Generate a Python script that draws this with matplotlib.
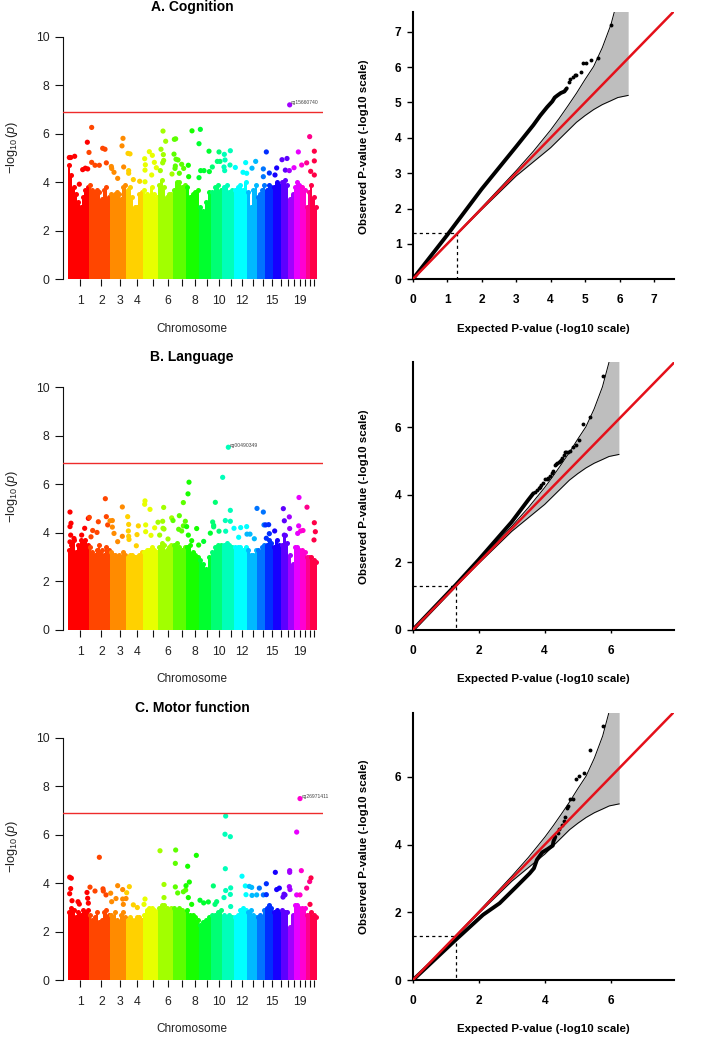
import numpy as np
import matplotlib
matplotlib.use('Agg')
import matplotlib.pyplot as plt
from matplotlib.colors import hsv_to_rgb

plt.rcParams['font.family'] = ['Liberation Sans', 'DejaVu Sans']
plt.rcParams['mathtext.fontset'] = 'custom'
plt.rcParams['mathtext.rm'] = 'Liberation Sans'
plt.rcParams['mathtext.it'] = 'Liberation Sans:italic'

# chromosome widths along the genome axis
chr_width = [64, 62, 50, 49, 46, 44, 40, 39, 35, 35, 34, 40, 30, 25, 22, 24, 23, 17, 18, 18, 12, 22]
chr_ticks = [38, 101, 157, 207, 255, 300, 342, 381, 418, 454, 489, 523, 556, 586, 614, 640, 662, 679, 696, 711, 727, 740]
chr_labels = ['1', '2', '3', '4', '', '6', '', '8', '', '10', '', '12', '', '', '15', '', '', '', '19', '', '', '']

threshold = 6.9

# skyline of the dense points, one list per chromosome
sky_A = [
    [4.7, 4.3, 3.8, 3.5, 3.2, 3.0, 3.4, 3.7, 3.8], [3.9, 3.7, 3.6, 3.7, 3.6, 3.3, 3.7, 3.8, 3.4],
    [3.5, 3.4, 3.5, 3.6, 3.5, 3.3, 3.8, 3.9], [3.7, 3.8, 3.4, 3.0, 3.0, 3.5, 3.6], [3.7, 3.5, 3.4, 3.8, 3.5, 3.4],
    [3.9, 4.1, 3.8, 3.4, 3.5, 3.5], [3.7, 4.0, 4.0, 3.8, 3.9], [3.8, 3.4, 3.5, 3.6, 3.7], [3.0, 2.8, 3.2, 3.6],
    [3.6, 3.8, 3.9, 3.7], [3.8, 3.9, 3.6, 3.7], [3.7, 3.8, 3.9, 3.7, 4.0], [3.6, 3.0, 3.7, 3.9],
    [3.4, 3.5, 3.7, 3.9], [3.7, 3.9, 3.8], [3.8, 4.0, 3.9], [4.0, 4.1, 3.9], [3.3, 3.5],
    [3.8, 4.0, 3.9], [3.8, 3.7], [3.0, 3.6], [3.9, 3.4, 3.0],
]
sky_B = [
    [3.3, 3.5, 3.7, 3.2, 3.5, 3.7, 3.6, 3.7, 3.5], [3.4, 3.2, 3.1, 3.3, 3.5, 3.3, 3.1, 3.4, 3.3],
    [3.2, 3.1, 3.1, 3.0, 3.1, 3.0, 3.2, 3.1], [3.0, 3.1, 3.1, 3.0, 3.0, 3.1, 3.2], [3.2, 3.3, 3.3, 3.4, 3.3, 3.2],
    [3.4, 3.6, 3.5, 3.3, 3.4, 3.5], [3.5, 3.6, 3.4, 3.3, 3.4], [3.4, 3.5, 3.2, 3.1, 3.0], [2.9, 2.7, 2.5, 3.0],
    [3.2, 3.4, 3.5, 3.5], [3.5, 3.6, 3.5, 3.4], [3.4, 3.4, 3.4, 3.3, 3.4], [3.3, 3.1, 3.1, 3.3],
    [3.3, 3.2, 3.4, 3.5], [3.5, 3.7, 3.6], [3.4, 3.7, 3.5], [3.5, 3.9, 3.6], [3.1, 2.7],
    [3.4, 3.4, 3.3], [3.3, 3.2], [3.0, 3.0], [3.0, 2.9, 2.8],
]
sky_C = [
    [2.8, 3.0, 2.9, 2.6, 2.8, 2.7, 2.9, 2.8, 2.9], [2.7, 2.5, 2.6, 2.8, 2.4, 2.5, 2.8, 2.9, 2.7],
    [2.7, 2.6, 2.8, 2.5, 2.4, 2.7, 2.8, 2.6], [2.5, 2.6, 2.5, 2.5, 2.6, 2.6, 2.5], [2.7, 2.9, 3.0, 3.0, 2.9, 2.8],
    [3.0, 3.1, 3.1, 3.0, 2.9, 3.0], [3.0, 2.9, 3.0, 2.9, 2.8], [2.9, 2.7, 2.7, 2.6, 2.5], [2.3, 2.4, 2.5, 2.6],
    [2.7, 2.7, 2.8, 2.9], [2.7, 2.6, 2.7, 2.6], [2.6, 2.7, 2.9, 3.0, 2.9], [2.8, 2.9, 2.7, 2.6],
    [2.6, 2.7, 2.6, 2.9], [3.0, 3.1, 3.0], [2.8, 2.9, 2.8], [2.9, 2.8, 2.8], [2.2, 2.7],
    [3.1, 3.1, 3.0], [3.0, 3.0], [2.7, 2.7], [2.8, 2.7, 2.6],
]

# strongest points: position along genome axis, -log10(p)
hits_A_x = [5, 9, 21, 35, 45, 53, 60, 59, 64, 72, 72, 82, 95, 105, 112, 116, 131, 132, 139, 150, 163, 166, 168, 181, 187, 183, 183, 197, 216, 232, 232, 233, 231, 245, 254, 260, 266, 252, 280, 287, 286, 294, 288, 285, 278, 320, 324, 319, 325, 331, 323, 322, 313, 342, 335, 362, 348, 363, 373, 394, 398, 399, 409, 394, 424, 425, 434, 449, 457, 454, 470, 472, 488, 469, 487, 503, 471, 534, 526, 537, 553, 564, 587, 596, 605, 587, 627, 622, 643, 658, 653, 665, 679, 692, 702, 717, 726, 729, 740, 740, 740, 666]
hits_A_y = [5.02, 5.02, 5.07, 3.92, 4.52, 4.58, 4.55, 5.65, 5.23, 6.26, 4.82, 4.70, 4.70, 5.40, 5.36, 4.80, 4.65, 4.57, 4.41, 4.16, 5.50, 5.81, 4.63, 5.19, 5.17, 4.48, 4.37, 4.11, 4.04, 4.02, 4.50, 4.72, 4.97, 5.26, 5.11, 4.82, 4.60, 4.30, 5.36, 5.14, 6.11, 5.69, 4.90, 4.80, 4.48, 5.77, 5.79, 5.16, 4.95, 4.92, 4.67, 4.57, 4.34, 4.74, 4.37, 4.70, 4.57, 4.23, 6.12, 5.59, 6.18, 4.48, 4.48, 4.19, 5.28, 4.44, 4.63, 4.86, 4.86, 5.25, 5.15, 4.92, 5.30, 4.63, 4.71, 4.61, 4.48, 4.81, 4.41, 4.37, 4.58, 4.86, 4.55, 5.25, 4.38, 4.23, 4.59, 4.30, 4.93, 4.98, 4.50, 4.48, 4.60, 5.25, 4.71, 4.80, 5.88, 4.45, 5.28, 4.88, 4.30, 7.19]
hits_B_x = [7, 10, 7, 9, 7, 19, 42, 51, 62, 65, 70, 75, 88, 92, 113, 116, 120, 134, 127, 134, 139, 150, 164, 164, 180, 183, 182, 183, 184, 208, 212, 206, 232, 231, 234, 234, 247, 250, 261, 271, 285, 288, 276, 286, 289, 312, 316, 301, 335, 333, 342, 353, 347, 357, 347, 361, 364, 362, 387, 372, 393, 408, 428, 435, 438, 438, 443, 454, 465, 473, 488, 488, 474, 499, 482, 519, 513, 537, 538, 547, 560, 568, 587, 589, 594, 603, 605, 621, 596, 647, 650, 665, 666, 650, 694, 718, 693, 699, 706, 690, 740, 743, 739]
hits_B_y = [4.86, 4.40, 4.26, 3.91, 3.63, 3.77, 3.91, 4.19, 4.60, 4.64, 3.84, 4.10, 4.02, 4.46, 5.41, 4.67, 4.33, 4.51, 4.50, 4.24, 3.98, 3.64, 5.07, 3.86, 4.67, 4.35, 4.08, 3.86, 3.73, 3.93, 4.29, 3.47, 5.32, 5.18, 4.33, 4.05, 4.97, 3.90, 4.21, 4.44, 4.48, 5.05, 3.91, 4.19, 4.16, 4.62, 4.51, 3.75, 4.71, 4.15, 4.08, 4.48, 4.29, 4.26, 5.25, 5.61, 6.09, 3.91, 4.18, 3.68, 3.50, 3.65, 3.99, 4.45, 4.31, 4.25, 5.26, 4.07, 6.29, 4.51, 4.48, 4.93, 4.07, 4.19, 7.53, 4.22, 3.82, 4.26, 3.95, 3.95, 3.76, 5.01, 4.86, 4.33, 4.33, 4.34, 3.97, 4.08, 3.78, 5.00, 4.50, 4.66, 4.18, 3.91, 5.46, 5.06, 4.29, 4.08, 4.10, 3.98, 4.42, 4.05, 3.71]
hits_C_x = [6, 11, 9, 6, 13, 31, 35, 58, 67, 60, 82, 62, 95, 106, 107, 115, 129, 132, 145, 150, 165, 177, 175, 185, 165, 167, 197, 209, 232, 229, 277, 289, 289, 324, 323, 323, 330, 347, 354, 355, 365, 360, 362, 386, 372, 397, 408, 422, 437, 447, 442, 474, 472, 488, 473, 474, 469, 488, 489, 489, 523, 533, 535, 545, 552, 553, 567, 575, 587, 596, 596, 623, 627, 635, 649, 652, 646, 665, 667, 666, 666, 687, 701, 697, 717, 726, 730, 687, 697, 727]
hits_C_y = [4.25, 4.21, 3.78, 3.57, 3.28, 3.24, 3.14, 3.62, 3.84, 3.38, 3.68, 3.18, 5.07, 3.77, 3.68, 3.52, 3.59, 3.24, 3.37, 3.90, 3.74, 3.61, 3.37, 3.86, 3.35, 3.13, 3.11, 3.00, 3.35, 3.13, 5.34, 3.95, 3.41, 5.37, 4.82, 3.85, 3.60, 3.65, 3.72, 3.90, 4.05, 4.70, 3.41, 5.15, 3.13, 3.30, 3.19, 3.23, 3.89, 3.24, 3.13, 6.77, 6.02, 5.92, 4.60, 3.70, 3.41, 3.54, 3.81, 3.04, 4.29, 3.89, 3.53, 3.87, 3.83, 3.50, 3.52, 3.80, 3.52, 3.98, 3.53, 4.45, 3.74, 3.80, 3.55, 3.52, 3.43, 3.86, 3.74, 4.52, 4.45, 6.11, 4.52, 7.49, 3.80, 4.07, 4.22, 3.52, 3.52, 3.13]

# labelled top hits
top_names = ['cg15660740', 'cg00490349', 'cg26971411']
top_x = [666, 482, 697]
top_y = [7.19, 7.53, 7.49]

titles = ['A. Cognition', 'B. Language', 'C. Motor function']

# QQ: confidence band
ci_x = [0, 1, 2, 3, 3.5, 4, 4.25, 4.5, 4.75, 5, 5.25, 5.5, 5.75, 5.95, 6.25]
ci_up = [0, 1.01, 2.03, 3.07, 3.62, 4.22, 4.55, 4.9, 5.26, 5.65, 6.02, 6.55, 7.2, 7.93, 9.0]
ci_lo = [0, 0.99, 1.97, 2.92, 3.32, 3.72, 3.96, 4.2, 4.44, 4.63, 4.8, 4.94, 5.05, 5.14, 5.2]

# QQ: observed, dense part as thick line, tail as dots
line_A_x = [0, 1, 2, 3, 3.5, 3.7, 3.9, 4.05, 4.12, 4.2, 4.3, 4.4, 4.47]
line_A_y = [0, 1.25, 2.55, 3.75, 4.36, 4.63, 4.87, 5.03, 5.14, 5.2, 5.27, 5.31, 5.4]
tail_A_x = [4.52, 4.57, 4.65, 4.7, 4.75, 4.87, 4.95, 5.02, 5.17, 5.38, 5.76]
tail_A_y = [5.57, 5.65, 5.72, 5.78, 5.79, 5.87, 6.12, 6.12, 6.19, 6.27, 7.19]
line_B_x = [0, 1.3, 2, 3, 3.5, 3.66]
line_B_y = [0, 1.33, 2.08, 3.2, 3.85, 4.05]
tail_B_x = [3.72, 3.76, 3.82, 3.86, 3.9, 3.94, 4.01, 4.06, 4.1, 4.16, 4.22, 4.26, 4.31, 4.35, 4.38, 4.42, 4.46, 4.5, 4.54, 4.58, 4.62, 4.66, 4.7, 4.77, 4.87, 4.95, 5.04, 5.17, 5.37, 5.76]
tail_B_y = [4.1, 4.15, 4.2, 4.24, 4.3, 4.36, 4.47, 4.48, 4.5, 4.57, 4.65, 4.71, 4.89, 4.92, 4.95, 4.98, 5.01, 5.05, 5.1, 5.18, 5.26, 5.27, 5.28, 5.3, 5.42, 5.48, 5.62, 6.1, 6.3, 7.53]
line_C_x = [0, 1.3, 2.13, 2.63, 3.14, 3.54, 3.67, 3.76, 3.92, 4.09, 4.24, 4.26, 4.32]
line_C_y = [0, 1.19, 1.93, 2.27, 2.76, 3.15, 3.3, 3.55, 3.77, 3.87, 3.97, 4.09, 4.23]
tail_C_x = [4.39, 4.44, 4.52, 4.59, 4.61, 4.66, 4.71, 4.77, 4.85, 4.93, 5.03, 5.18, 5.38, 5.76]
tail_C_y = [4.33, 4.45, 4.58, 4.7, 4.82, 5.07, 5.14, 5.34, 5.35, 5.92, 6.02, 6.11, 6.79, 7.5]

W, H = 701.0, 1050.0


def axes_px(left, top, right, bottom):
    return fig.add_axes([left / W, 1 - bottom / H, (right - left) / W, (bottom - top) / H])


def manhattan(ax, sky, hits_x, hits_y, title, name, nx, ny, xlab_y, title_y, ylab_y):
    edges = np.concatenate([[0], np.cumsum(chr_width)])
    cols = [hsv_to_rgb((i / 22.0, 1, 1)) for i in range(22)]
    for i in range(22):
        n = len(sky[i])
        step = chr_width[i] / n
        xs = edges[i] + step * (np.arange(n) + 0.5)
        ax.bar(xs, sky[i], width=step, color=cols[i], linewidth=0, zorder=2)
        ax.scatter(xs, sky[i], s=13, color=cols[i], linewidths=0, zorder=2, clip_on=False)
    idx = np.clip(np.searchsorted(edges, hits_x, side='right') - 1, 0, 21)
    ax.scatter(hits_x, hits_y, s=14, c=[cols[j] for j in idx], linewidths=0, zorder=3)
    ax.axhline(threshold, color='#ee2b2b', lw=1.0, zorder=4)
    ax.text(nx + 4, ny + 0.08, name, fontsize=3.6, color='#444444', va='center', ha='left')

    ax.set_xlim(-15, 766)
    ax.set_ylim(0, 10)
    for s in ['top', 'right', 'bottom']:
        ax.spines[s].set_visible(False)
    ax.spines['left'].set_linewidth(0.8)
    ax.spines['left'].set_color('#111111')
    ax.set_yticks([0, 2, 4, 6, 8, 10])
    ax.tick_params(axis='y', length=5.5, width=0.8, labelsize=8.8, pad=4, color='#111111', labelcolor='#222222')
    ax.set_xticks(chr_ticks)
    ax.set_xticklabels(chr_labels)
    ax.tick_params(axis='x', length=5, width=0.8, labelsize=8.8, pad=6.5, color='#111111', labelcolor='#222222')
    fig.text(192 / W, 1 - xlab_y / H, 'Chromosome', fontsize=8.5, ha='center', va='center', color='#222222')
    fig.text(12.5 / W, 1 - ylab_y / H, r'$-\log_{10}(p)$', fontsize=9.2, rotation=90,
             ha='center', va='center', color='#222222')
    fig.text(192 / W, 1 - title_y / H, title, fontsize=10, fontweight='bold', ha='center', va='center')


def qq(ax, xmax, ymax, ticks, line_x, line_y, tail_x, tail_y, xlab_y):
    ax.fill_between(ci_x, ci_lo, ci_up, color='#bebebe', linewidth=0, zorder=1)
    ax.plot(ci_x, ci_up, color='black', lw=0.7, zorder=2)
    ax.plot(ci_x, ci_lo, color='black', lw=0.7, zorder=2)
    ax.plot([0, 1.3, 1.3], [1.3, 1.3, 0], color='black', lw=0.9, ls=(0, (2.5, 2.5)), zorder=2)
    ax.plot(line_x, line_y, color='black', lw=2.8, solid_capstyle='round', zorder=3)
    ax.plot(tail_x, tail_y, 'o', color='black', ms=2.8, mew=0, zorder=3)
    ax.axline((0, 0), slope=1, color='#e4101a', lw=1.8, zorder=4)

    ax.set_xlim(0, xmax)
    ax.set_ylim(0, ymax)
    for s in ['top', 'right']:
        ax.spines[s].set_visible(False)
    for s in ['left', 'bottom']:
        ax.spines[s].set_linewidth(1.5)
    ax.set_xticks(ticks)
    ax.set_yticks(ticks)
    ax.tick_params(axis='x', length=2.5, width=1.0, labelsize=8.6, pad=8)
    ax.tick_params(axis='y', length=4, width=1.0, labelsize=8.6, pad=4)
    for t in ax.get_xticklabels() + ax.get_yticklabels():
        t.set_fontweight('bold')
    fig.text((350 + 579 / 3) / W, 1 - xlab_y / H, 'Expected P-value (-log10 scale)', fontsize=8.25,
             fontweight='bold', ha='center', va='center')
    fig.text(364.5 / W, 1 - (xlab_y - 182) / H, 'Observed P-value (-log10 scale)', fontsize=8.25,
             fontweight='bold', rotation=90, ha='center', va='center')


fig = plt.figure(figsize=(7.01, 10.5), dpi=100)

# left column
ax = axes_px(62.67, 36.7, 323, 279.3)
manhattan(ax, sky_A, hits_A_x, hits_A_y, titles[0], top_names[0], top_x[0], top_y[0], 328.7, 7.5, 147)
ax = axes_px(62.67, 387.3, 323, 630)
manhattan(ax, sky_B, hits_B_x, hits_B_y, titles[1], top_names[1], top_x[1], top_y[1], 679, 357.5, 496.7)
ax = axes_px(62.67, 737.7, 323, 980.3)
manhattan(ax, sky_C, hits_C_x, hits_C_y, titles[2], top_names[2], top_x[2], top_y[2], 1029, 707.5, 846.7)

# right column
ax = axes_px(412.67, 12.3, 674, 279.3)
qq(ax, 7.58, 7.55, [0, 1, 2, 3, 4, 5, 6, 7], line_A_x, line_A_y, tail_A_x, tail_A_y, 328.7)
ax = axes_px(412.67, 362.3, 674, 630)
qq(ax, 7.92, 7.93, [0, 2, 4, 6], line_B_x, line_B_y, tail_B_x, tail_B_y, 679)
ax = axes_px(412.67, 713.3, 674, 980.3)
qq(ax, 7.91, 7.87, [0, 2, 4, 6], line_C_x, line_C_y, tail_C_x, tail_C_y, 1029)

plt.savefig('out.png', dpi=100)
